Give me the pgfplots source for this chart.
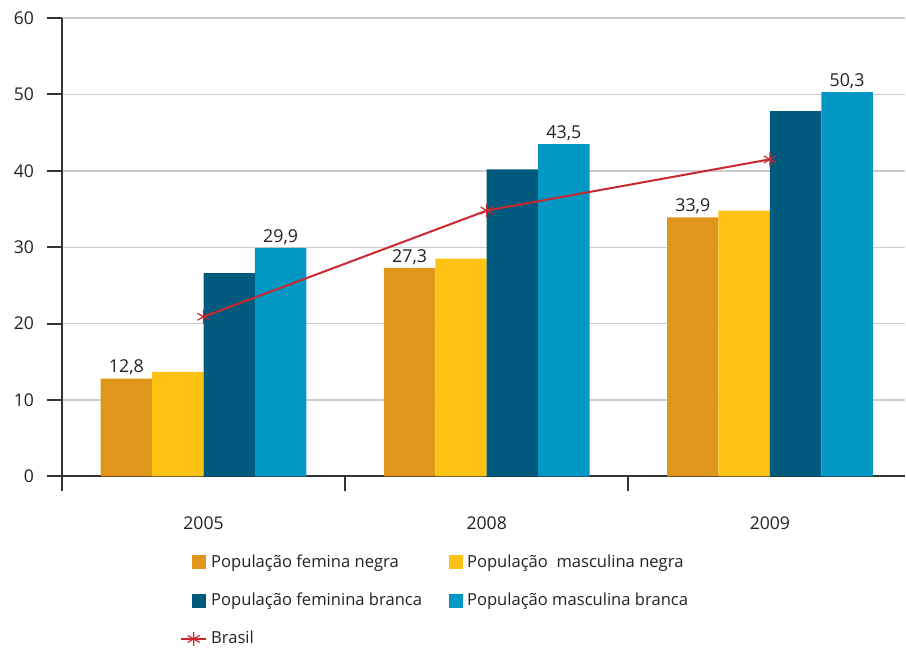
\documentclass[border=0pt]{standalone}
\usepackage{pgfplots}
\pgfplotsset{compat=1.18}
\usepackage{fontspec}
\setmainfont{Open Sans}

\definecolor{fnegra}{RGB}{224,150,27}
\definecolor{mnegra}{RGB}{253,194,19}
\definecolor{fbranca}{RGB}{0,90,125}
\definecolor{mbranca}{RGB}{3,151,196}
\definecolor{brasil}{RGB}{200,40,46}
\definecolor{axisgray}{RGB}{51,51,51}
\definecolor{gridgray}{RGB}{204,204,204}
\definecolor{textgray}{RGB}{34,34,34}

\pgfplotsset{
  sqlegend/.style={legend image code/.code={
      \path (0pt,0pt) (12.5pt,0pt);
      \fill[##1,draw=none] (5.5pt,-3.5pt) rectangle (12.5pt,3.5pt);}},
  lnlegend/.style={legend image code/.code={
      \draw[##1,mark repeat=2,mark phase=2] plot coordinates {(0pt,0pt) (6.25pt,0pt) (12.5pt,0pt)};}},
  barlabel/.style={
    nodes near coords={\pgfmathprintnumber[use comma,fixed,fixed zerofill,precision=1]{\pgfplotspointmeta}},
    nodes near coords style={font=\fontsize{8.9pt}{10pt}\selectfont, text=textgray, inner sep=1.5pt, xshift=#1}},
}

\begin{document}
\fontsize{8.3pt}{10pt}\selectfont
\begin{tikzpicture}
\begin{axis}[
  name=ax,
  scale only axis,
  width=422pt, height=229.5pt,
  xmin=-0.5, xmax=2.477,
  ymin=0, ymax=60,
  ytick={0,10,...,60},
  xtick={0,1,2},
  xticklabels={2005,2008,2009},
  minor xtick={-0.5,0.5,1.5},
  axis lines=left,
  axis line style={-, line width=1pt, draw=axisgray},
  tick align=outside,
  major tick length=7.5pt,
  minor tick length=7.5pt,
  major x tick style={draw=none},
  minor x tick style={line width=1pt, draw=axisgray},
  ytick style={line width=1pt, draw=axisgray},
  ymajorgrids,
  grid style={line width=0.7pt, gridgray},
  tick label style={font=\fontsize{8.8pt}{10pt}\selectfont, text=textgray},
  /pgf/number format/assume math mode=true,
  xticklabel style={yshift=-9.5pt},
  yticklabel style={xshift=-3.5pt},
  legend columns=2,
  legend cell align=left,
  legend style={
    at={(axis description cs:0.1398,-0.161)}, anchor=north west,
    draw=none, fill=none, inner sep=0pt,
    font=\fontsize{8.3pt}{10pt}\selectfont, text=textgray,
    row sep=7.6pt,
    /tikz/every even column/.append style={column sep=6pt},
  },
]
\addplot[ybar, bar width=0.1817, bar shift=-0.2725, fill=fnegra, draw=none, sqlegend, barlabel=-38.6pt]
  coordinates {(0,12.8) (1,27.3) (2,33.9)};
\addlegendentry{População femina negra}
\addplot[ybar, bar width=0.1817, bar shift=-0.0908, fill=mnegra, draw=none, sqlegend]
  coordinates {(0,13.7) (1,28.5) (2,34.8)};
\addlegendentry{População\ \ masculina negra}
\addplot[ybar, bar width=0.1817, bar shift=0.0908, fill=fbranca, draw=none, sqlegend]
  coordinates {(0,26.6) (1,40.2) (2,47.8)};
\addlegendentry{População feminina branca}
\addplot[ybar, bar width=0.1817, bar shift=0.2725, fill=mbranca, draw=none, sqlegend, barlabel=38.6pt]
  coordinates {(0,29.9) (1,43.5) (2,50.3)};
\addlegendentry{População masculina branca}
\addplot[brasil, line width=1pt, mark=asterisk, mark size=3.5pt,
  mark options={line width=0.6pt}, lnlegend]
  coordinates {(0,20.9) (1,34.8) (2,41.5)};
\addlegendentry{Brasil}
\end{axis}
\path ([xshift=-31pt,yshift=-84.5pt]ax.south west) rectangle ([yshift=9pt]ax.north east);
\end{tikzpicture}
\end{document}
